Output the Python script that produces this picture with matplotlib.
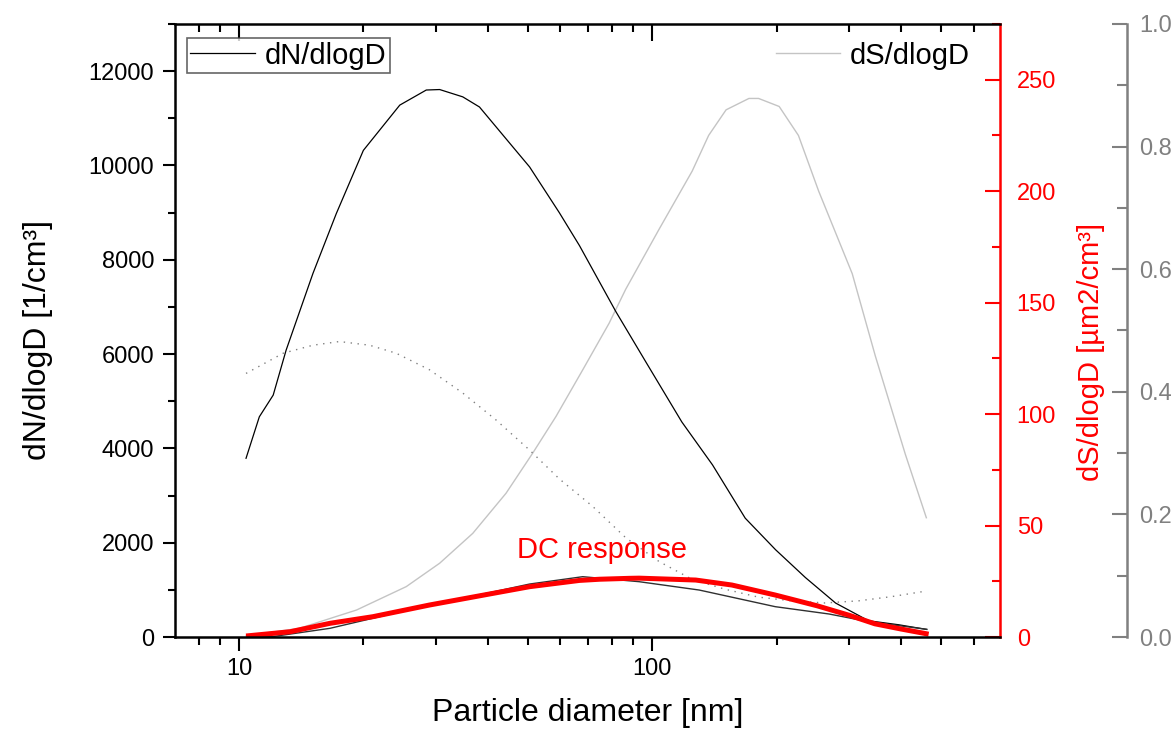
import matplotlib
matplotlib.use("Agg")
import matplotlib.pyplot as plt
from matplotlib.ticker import FixedLocator, NullFormatter, FixedFormatter, MultipleLocator
from matplotlib.lines import Line2D

plt.rcParams['font.family'] = ['Liberation Sans', 'DejaVu Sans']

# ---------------- data ----------------
dn_d = [10.4, 11.2, 12.1, 13.0, 15.1, 17.2, 20.0, 24.5, 28.4, 30.6, 34.8, 38.2, 46.0,
        50.5, 59.6, 66.7, 81.7, 96.6, 118, 140, 168, 199, 235, 278, 334, 395, 462]
dn_v = [3790, 4670, 5130, 6080, 7710, 8980, 10320, 11280, 11600, 11610, 11455, 11240,
        10394, 9970, 9000, 8300, 6900, 5830, 4560, 3650, 2520, 1850, 1260, 720, 345,
        260, 160]

ds_d = [10.4, 14.0, 19.25, 25.4, 30.6, 36.8, 44.3, 51.4, 58.5, 67.9, 78.7, 86.3, 104,
        125, 137, 151, 171.5, 181, 203, 226, 253, 305, 347, 410, 461]
ds_v = [0.5, 3.9, 12.1, 22.6, 33.1, 46.5, 64.5, 82.5, 98.9, 119.8, 140.8, 156, 183,
        209, 225, 236.5, 241.6, 241.6, 238, 225, 200, 163, 126, 82, 53.5]

dot_d = [10.4, 12.8, 15.1, 17.5, 20.7, 24.0, 28.9, 34.8, 41.9, 50.5, 59.6, 71.8,
         86.3, 104, 125, 150, 181, 218, 262, 316, 381, 461]
dot_v = [0.430, 0.463, 0.476, 0.482, 0.476, 0.463, 0.436, 0.398, 0.354, 0.305, 0.258,
         0.213, 0.162, 0.123, 0.094, 0.078, 0.065, 0.059, 0.0555, 0.059, 0.066, 0.075]

low_d = [11.0, 12.1, 16.6, 21.9, 28.9, 39.7, 50.5, 67.9, 93, 130, 198.6, 268, 334, 462]
low_v = [5, 10, 184, 431, 678, 926, 1123, 1279, 1173, 996, 643, 488, 325, 163]

dc_d = [10.4, 13.3, 16.6, 21.1, 28.9, 40.4, 50.5, 66.7, 74.6, 88, 93, 127.5, 156,
        198.6, 251, 300, 346, 400, 467]
dc_v = [21, 112, 290, 431, 678, 912, 1067, 1200, 1225, 1244, 1248, 1208, 1102,
        890, 661, 460, 280, 170, 60]

x_major = [10, 100]
x_major_labels = ["10", "100"]
x_minor = [8, 9, 20, 30, 40, 50, 60, 70, 80, 90, 200, 300, 400, 500, 600]

# ---------------- figure ----------------
fig = plt.figure(figsize=(11.73, 7.30), dpi=100)
ax = fig.add_axes([175/1173, 1-637/730, 825/1173, 613/730])
ax2 = ax.twinx()
ax3 = ax.twinx()
ax.set_zorder(3)
ax.patch.set_visible(False)

ax.set_xscale('log')
ax.set_xlim(7.0, 695)
ax.set_ylim(0, 13000)
ax2.set_ylim(0, 275)
ax3.set_ylim(0, 1.0)

# curves
ax3.plot(dot_d, dot_v, color='#808080', lw=1.0, ls=(0, (1, 4)))
ax2.plot(ds_d, ds_v, color='#c4c4c4', lw=1.0)
ax.plot(dn_d, dn_v, color='black', lw=0.9)
ax.plot(low_d, low_v, color='#303030', lw=1.0)
ax.plot(dc_d, dc_v, color='#ff0000', lw=3.6, solid_capstyle='butt')

ax.text(75.7, 1844, "DC response", color='#ff0000', fontsize=21,
        ha='center', va='center')

# x axis
ax.xaxis.set_major_locator(FixedLocator(x_major))
ax.xaxis.set_major_formatter(FixedFormatter(x_major_labels))
ax.xaxis.set_minor_locator(FixedLocator(x_minor))
ax.xaxis.set_minor_formatter(NullFormatter())
ax.tick_params(axis='x', which='major', direction='out', length=10, width=1.5,
               labelsize=17, pad=5)
ax.tick_params(axis='x', which='minor', direction='out', length=6, width=1.5)

top = ax.secondary_xaxis('top')
top.xaxis.set_major_locator(FixedLocator(x_major))
top.xaxis.set_minor_locator(FixedLocator(x_minor))
top.xaxis.set_major_formatter(NullFormatter())
top.xaxis.set_minor_formatter(NullFormatter())
top.tick_params(axis='x', which='major', direction='in', length=12, width=1.5)
top.tick_params(axis='x', which='minor', direction='in', length=6, width=1.5)
top.spines['top'].set_linewidth(1.8)

# left y axis
ax.yaxis.set_major_locator(MultipleLocator(2000))
ax.yaxis.set_minor_locator(MultipleLocator(1000))
ax.tick_params(axis='y', which='major', direction='out', length=9, width=1.5,
               labelsize=17, pad=6)
ax.tick_params(axis='y', which='minor', direction='out', length=5, width=1.5)

for s in ['left', 'bottom']:
    ax.spines[s].set_linewidth(1.8)
ax.spines['right'].set_visible(False)
ax.spines['top'].set_visible(False)

ax.set_xlabel("Particle diameter [nm]", fontsize=23, labelpad=13)
ax.set_ylabel("dN/dlogD [1/cm³]", fontsize=23)
ax.yaxis.set_label_coords(-0.148, 0.485)

# red y axis
red = '#ff0000'
ax2.yaxis.set_major_locator(MultipleLocator(50))
ax2.yaxis.set_minor_locator(MultipleLocator(25))
ax2.tick_params(axis='y', which='major', direction='in', length=11, width=1.5,
                colors=red, labelsize=17, pad=12)
ax2.tick_params(axis='y', which='minor', direction='in', length=6, width=1.5,
                colors=red)
ax2.spines['right'].set_color(red)
ax2.spines['right'].set_linewidth(1.8)
for s in ['left', 'top', 'bottom']:
    ax2.spines[s].set_visible(False)
ax2.set_ylabel("dS/dlogD [µm2/cm³]", fontsize=21, color=red,
               family=['Liberation Sans Narrow', 'Liberation Sans'])
ax2.yaxis.set_label_coords(1.093, 0.465)

# third (grey) y axis
grey = '#808080'
ax3.spines['right'].set_position(('axes', 1.1539))
ax3.spines['right'].set_color(grey)
ax3.spines['right'].set_linewidth(1.8)
for s in ['left', 'top', 'bottom']:
    ax3.spines[s].set_visible(False)
ax3.yaxis.set_major_locator(FixedLocator([0.0, 0.2, 0.4, 0.6, 0.8, 1.0]))
ax3.yaxis.set_major_formatter(FixedFormatter(["0.0", "0.2", "0.4", "0.6", "0.8", "1.0"]))
ax3.yaxis.set_minor_locator(MultipleLocator(0.1))
ax3.tick_params(axis='y', which='major', direction='in', length=11, width=1.5,
                colors=grey, labelsize=17, pad=9)
ax3.tick_params(axis='y', which='minor', direction='in', length=7, width=1.5,
                colors=grey)

# legends
h1 = Line2D([], [], color='black', lw=0.9)
leg1 = ax.legend([h1], ["dN/dlogD"], loc='upper left', bbox_to_anchor=(0.0145, 0.977),
                 borderaxespad=0, frameon=True, fancybox=False, fontsize=21,
                 handlelength=2.2, handletextpad=0.35, borderpad=0.12)
leg1.get_frame().set_edgecolor('#404040')
leg1.get_frame().set_linewidth(1.2)
ax.add_artist(leg1)
h2 = Line2D([], [], color='#c4c4c4', lw=1.0)
ax.legend([h2], ["dS/dlogD"], loc='upper right', bbox_to_anchor=(0.968, 0.977),
          borderaxespad=0, frameon=False, fontsize=21,
          handlelength=2.2, handletextpad=0.35, borderpad=0.12)

fig.savefig("out.png", dpi=100)
